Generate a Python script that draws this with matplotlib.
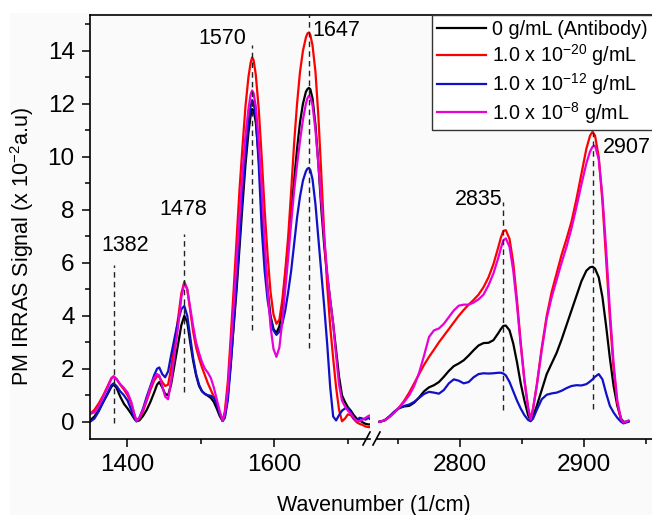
import matplotlib
matplotlib.use("Agg")
import matplotlib.pyplot as plt
from matplotlib.lines import Line2D
from matplotlib.patches import Rectangle
from matplotlib.ticker import MultipleLocator

plt.rcParams["font.family"] = ["Liberation Sans", "DejaVu Sans"]
plt.rcParams["mathtext.fontset"] = "custom"
plt.rcParams["mathtext.rm"] = "Liberation Sans"
plt.rcParams["mathtext.it"] = "Liberation Sans:italic"
plt.rcParams["mathtext.bf"] = "Liberation Sans:bold"

# --- data -------------------------------------------------------------
labels = ["0 g/mL (Antibody)", "1.0 x 10$^{-20}$ g/mL",
          "1.0 x 10$^{-12}$ g/mL", "1.0 x 10$^{-8}$ g/mL"]
colors = ["black", "#ff0000", "#1010c8", "#e800d8"]

# amide / CH bending region (left of the axis break)
wn_low = [1350, 1356, 1362, 1368, 1374, 1379, 1382, 1386, 1391, 1396,
          1401, 1406, 1410, 1413, 1417, 1422, 1427, 1432, 1437, 1441,
          1444, 1448, 1452, 1456, 1460, 1465, 1470, 1474, 1478, 1482,
          1486, 1490, 1494, 1498, 1502, 1506, 1510, 1514, 1518, 1522,
          1526, 1530, 1533, 1537, 1541, 1545, 1549, 1553, 1557, 1561,
          1565, 1568, 1570, 1572, 1575, 1579, 1583, 1587, 1591, 1595,
          1599, 1603, 1607, 1611, 1615, 1619, 1623, 1627, 1631, 1635,
          1639, 1643, 1645, 1647, 1649, 1652, 1656, 1660, 1664, 1668,
          1672, 1676, 1680, 1684, 1688, 1692, 1696, 1700, 1704, 1708,
          1712, 1716, 1720, 1724, 1728, 1731]
black_low = [0.05, 0.2, 0.45, 0.75, 1.05, 1.32, 1.4, 1.28, 0.95, 0.68,
             0.5, 0.3, 0.12, 0.02, 0.05, 0.22, 0.45, 0.75, 1.1, 1.4,
             1.5, 1.3, 1.05, 1.0, 1.4, 2.2, 3.0, 3.65, 4.0, 3.75,
             3.0, 2.3, 1.75, 1.35, 1.15, 1.05, 0.98, 0.9, 0.75, 0.5,
             0.22, 0.03, 0.2, 1.0, 2.2, 3.6, 5.0, 6.6, 8.2, 9.7,
             10.9, 11.55, 11.8, 11.75, 11.3, 10.0, 8.2, 6.4, 5.0, 4.0,
             3.5, 3.35, 3.6, 4.4, 5.5, 6.7, 7.9, 9.1, 10.3, 11.3,
             12.0, 12.45, 12.55, 12.6, 12.55, 12.2, 11.2, 9.7, 8.0, 6.6,
             5.5, 4.6, 3.7, 2.7, 1.7, 1.0, 0.75, 0.55, 0.42, 0.25,
             0.12, 0.05, -0.02, -0.08, -0.1, -0.1]
red_low = [0.3, 0.45, 0.7, 1.0, 1.35, 1.65, 1.72, 1.62, 1.4, 1.22,
           1.0, 0.7, 0.3, 0.03, 0.12, 0.4, 0.8, 1.2, 1.55, 1.72,
           1.7, 1.5, 1.35, 1.4, 2.0, 3.0, 4.0, 4.85, 5.28, 5.0,
           4.2, 3.4, 2.8, 2.4, 2.05, 1.75, 1.45, 1.2, 0.95, 0.7,
           0.35, 0.03, 0.4, 1.5, 3.2, 5.0, 6.9, 8.8, 10.4, 11.9,
           13.0, 13.55, 13.75, 13.65, 13.1, 11.8, 10.0, 8.0, 6.3, 4.9,
           4.05, 3.7, 3.85, 4.6, 5.7, 7.0, 8.7, 10.5, 12.0, 13.2,
           14.0, 14.5, 14.65, 14.69, 14.6, 14.2, 13.2, 11.5, 9.3, 7.0,
           5.1, 3.6, 2.4, 1.3, 0.45, 0.02, 0.12, 0.28, 0.25, 0.1,
           -0.02, -0.08, -0.12, -0.18, -0.2, -0.2]
blue_low = [0.0, 0.12, 0.4, 0.75, 1.1, 1.38, 1.45, 1.35, 1.15, 1.0,
            0.8, 0.45, 0.15, 0.02, 0.15, 0.5, 0.95, 1.35, 1.75, 2.0,
            2.05, 1.8, 1.68, 1.9, 2.5, 3.2, 3.85, 4.25, 4.37, 4.0,
            3.2, 2.4, 1.8, 1.4, 1.15, 1.05, 1.0, 0.98, 0.9, 0.65,
            0.3, 0.03, 0.15, 0.8, 2.1, 3.7, 5.2, 6.9, 8.6, 10.1,
            11.3, 11.9, 12.14, 12.05, 11.5, 9.7, 7.3, 5.7, 4.6, 3.9,
            3.45, 3.28, 3.4, 3.7, 4.2, 4.9, 5.7, 6.7, 7.7, 8.5,
            9.1, 9.45, 9.55, 9.58, 9.5, 9.15, 8.2, 6.9, 5.6, 4.3,
            2.9, 1.3, 0.2, 0.05, 0.25, 0.42, 0.5, 0.52, 0.35, 0.12,
            0.06, 0.15, 0.12, 0.08, 0.15, 0.08]
magenta_low = [0.3, 0.35, 0.6, 0.95, 1.3, 1.62, 1.7, 1.6, 1.42, 1.28,
               1.1, 0.75, 0.3, 0.03, 0.15, 0.45, 0.85, 1.3, 1.65, 1.8,
               1.75, 1.35, 0.95, 0.85, 1.5, 2.6, 3.7, 4.7, 5.25, 5.0,
               4.3, 3.6, 3.0, 2.6, 2.25, 2.0, 1.85, 1.65, 1.3, 0.85,
               0.4, 0.03, 0.3, 1.2, 2.8, 4.4, 6.1, 7.8, 9.4, 10.8,
               11.8, 12.35, 12.5, 12.4, 11.9, 10.6, 8.8, 6.8, 5.0, 3.6,
               2.75, 2.45, 2.8, 3.8, 5.0, 6.2, 7.5, 8.7, 9.7, 10.6,
               11.4, 12.0, 12.2, 12.3, 12.25, 11.95, 11.0, 9.7, 8.3, 6.9,
               5.6, 4.6, 3.7, 2.5, 1.4, 0.8, 0.58, 0.42, 0.3, 0.15,
               0.02, 0.03, 0.08, 0.15, 0.22, 0.25]

# C-H stretching region (right of the axis break)
wn_high = [2735, 2739, 2743, 2747, 2751, 2755, 2759, 2763, 2767, 2771,
           2775, 2779, 2783, 2787, 2791, 2795, 2799, 2803, 2807, 2811,
           2815, 2819, 2823, 2827, 2831, 2833, 2835, 2837, 2840, 2843,
           2846, 2849, 2852, 2855, 2857, 2859, 2862, 2866, 2870, 2874,
           2878, 2882, 2886, 2890, 2894, 2898, 2902, 2905, 2907, 2909,
           2912, 2915, 2918, 2921, 2924, 2927, 2930, 2932, 2934, 2936]
black_high = [0.0, 0.05, 0.2, 0.38, 0.52, 0.58, 0.6, 0.72, 0.92, 1.15,
              1.3, 1.38, 1.5, 1.7, 1.92, 2.1, 2.2, 2.32, 2.5, 2.7,
              2.88, 2.97, 2.98, 3.08, 3.35, 3.5, 3.62, 3.63, 3.45, 2.95,
              2.25, 1.45, 0.8, 0.25, 0.05, 0.2, 0.6, 1.2, 1.8, 2.2,
              2.6, 3.1, 3.65, 4.2, 4.75, 5.3, 5.7, 5.83, 5.85, 5.78,
              5.45, 4.7, 3.6, 2.4, 1.35, 0.6, 0.12, 0.0, 0.0, 0.02]
red_high = [0.0, 0.05, 0.18, 0.35, 0.55, 0.8, 1.1, 1.45, 1.8, 2.15,
            2.45, 2.72, 3.0, 3.25, 3.5, 3.75, 4.0, 4.22, 4.42, 4.6,
            4.8, 5.08, 5.45, 5.95, 6.6, 6.95, 7.2, 7.23, 6.9, 6.0,
            4.6, 3.0, 1.6, 0.55, 0.08, 0.5, 1.4, 2.8, 4.0, 4.9,
            5.6, 6.3, 6.9, 7.55, 8.4, 9.35, 10.3, 10.8, 10.94, 10.8,
            10.0, 8.3, 6.1, 3.9, 2.0, 0.7, 0.05, -0.05, 0.0, 0.02]
blue_high = [0.0, 0.05, 0.2, 0.38, 0.52, 0.6, 0.65, 0.75, 0.9, 1.05,
             1.13, 1.1, 1.06, 1.2, 1.45, 1.6, 1.55, 1.45, 1.5, 1.68,
             1.8, 1.83, 1.82, 1.83, 1.85, 1.85, 1.82, 1.75, 1.5, 1.15,
             0.8, 0.5, 0.25, 0.07, 0.02, 0.12, 0.45, 0.85, 1.02, 1.07,
             1.1, 1.17, 1.27, 1.35, 1.38, 1.37, 1.42, 1.52, 1.6, 1.7,
             1.8, 1.6, 1.07, 0.6, 0.35, 0.15, 0.0, -0.06, -0.03, 0.0]
magenta_high = [0.0, 0.05, 0.18, 0.35, 0.55, 0.75, 1.0, 1.35, 1.85, 2.5,
                3.2, 3.45, 3.52, 3.7, 3.95, 4.2, 4.38, 4.42, 4.42, 4.5,
                4.62, 4.8, 5.15, 5.6, 6.2, 6.55, 6.85, 6.92, 6.6, 5.7,
                4.4, 2.9, 1.55, 0.5, 0.08, 0.5, 1.35, 2.7, 3.9, 4.7,
                5.35, 6.0, 6.6, 7.3, 8.1, 8.95, 9.75, 10.2, 10.38, 10.42,
                9.9, 8.5, 6.5, 4.2, 2.2, 0.8, 0.1, -0.03, 0.0, 0.05]

peaks_low = [1382, 1478, 1570, 1647]
peaks_high = [2835, 2907]

low_series = [black_low, red_low, blue_low, magenta_low]
high_series = [black_high, red_high, blue_high, magenta_high]

# --- layout helpers (pixel -> figure fraction) --------------------------
W, H = 652, 515


def fx(px):
    return px / W


def fy(py):
    return 1 - py / H


fig = plt.figure(figsize=(W / 100, H / 100), dpi=100, facecolor="white")
fig.add_artist(Rectangle((fx(10), 0), 1 - fx(10), fy(13), transform=fig.transFigure,
                         facecolor="#fafafa", edgecolor="none", zorder=-10))

bottom, top = fy(439), fy(15)
ax1 = fig.add_axes([fx(90), bottom, fx(370) - fx(90), top - bottom])
ax2 = fig.add_axes([fx(377), bottom, fx(652) - fx(377), top - bottom])

handles = []
for ys_lo, ys_hi, c in zip(low_series, high_series, colors):
    h, = ax1.plot(wn_low, ys_lo, color=c, lw=1.6, solid_joinstyle="round")
    ax2.plot(wn_high, ys_hi, color=c, lw=1.6, solid_joinstyle="round")
    handles.append(h)

for ax in (ax1, ax2):
    ax.set_facecolor("none")
    ax.set_ylim(-0.65, 15.35)
    for s in ax.spines.values():
        s.set_linewidth(1.2)
    ax.spines["top"].set_visible(False)
    ax.spines["right"].set_visible(False)
    ax.tick_params(which="major", direction="out", length=6, width=1.1,
                   labelsize=17.5, pad=5)
    ax.tick_params(which="minor", direction="out", length=3.5, width=1.1)

ax1.set_xlim(1350, 1730)
ax1.xaxis.set_major_locator(MultipleLocator(200))
ax1.xaxis.set_minor_locator(MultipleLocator(100))
ax1.yaxis.set_major_locator(MultipleLocator(2))
ax1.yaxis.set_minor_locator(MultipleLocator(1))

ax2.set_xlim(2733, 2955)
ax2.xaxis.set_major_locator(MultipleLocator(100))
ax2.xaxis.set_minor_locator(MultipleLocator(50))
ax2.spines["left"].set_visible(False)
ax2.tick_params(axis="y", which="both", left=False, labelleft=False)

# dashed peak markers and their labels
dash = dict(color="#222222", lw=1.0, ls=(0, (4, 3)), zorder=4)
spans_low = [(-0.06, 5.9), (1.13, 7.1), (3.46, 14.2), (2.77, 15.35)]
for p, (lo, hi) in zip(peaks_low, spans_low):
    ax1.plot([p, p], [lo, hi], **dash)
spans_high = [(0.44, 8.3), (0.5, 10.94)]
for p, (lo, hi) in zip(peaks_high, spans_high):
    ax2.plot([p, p], [lo, hi], **dash)

txt = dict(fontsize=15.5, ha="center", va="center")
ax1.text(1398, 6.65, str(peaks_low[0]), **txt)
ax1.text(1477, 8.0, str(peaks_low[1]), **txt)
ax1.text(1530, 14.45, str(peaks_low[2]), **txt)
ax1.text(1684, 14.75, str(peaks_low[3]), **txt)
ax2.text(2815, 8.4, str(peaks_high[0]), **txt)
ax2.text(2935, 10.35, str(peaks_high[1]), **txt)

# top frame line across both panels, and the // break marks
fig.add_artist(Line2D([fx(90), 1.0], [top, top], color="black", lw=1.2,
                      transform=fig.transFigure))
for x0 in (363, 373):
    fig.add_artist(Line2D([fx(x0), fx(x0 + 7)], [fy(445), fy(432)], color="black",
                          lw=1.2, transform=fig.transFigure))

leg = fig.legend(handles, labels, loc="upper left",
                 bbox_to_anchor=(fx(432), fy(15)), bbox_transform=fig.transFigure,
                 fontsize=14.2, frameon=True, fancybox=False, framealpha=1,
                 facecolor="white", edgecolor="#333333", handlelength=2.5,
                 handletextpad=0.3, borderpad=0.25, labelspacing=0.15,
                 borderaxespad=0)
leg.get_frame().set_linewidth(1.0)

fig.text(fx(22), fy(246), "PM IRRAS Signal (x 10$^{-2}$a.u)", rotation=90,
         ha="center", va="center", fontsize=15.5)
fig.text(fx(374), fy(505), "Wavenumber (1/cm)", ha="center", va="center",
         fontsize=15.5)

fig.savefig("out.png", dpi=100, facecolor=fig.get_facecolor())
